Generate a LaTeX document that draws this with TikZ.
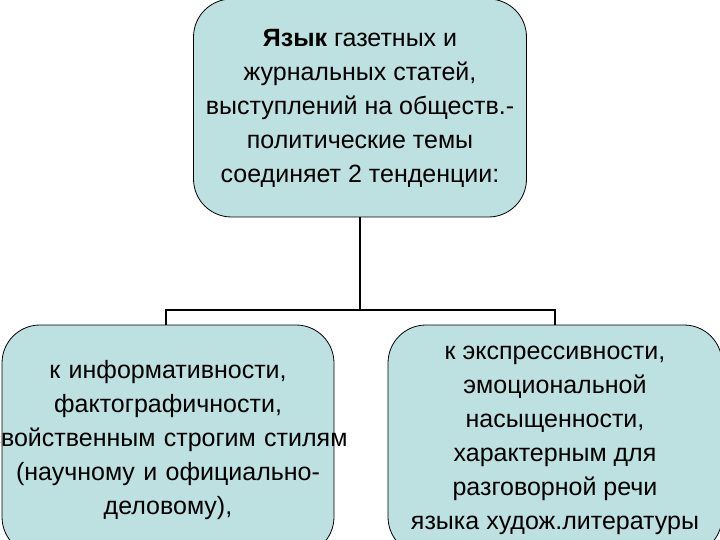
\documentclass[tikz,border=0pt]{standalone}
\usepackage{fontspec}
\setmainfont{Liberation Sans}
\definecolor{boxfill}{HTML}{BDE0E0}
\begin{document}
\begin{tikzpicture}[x=1pt,y=-1pt,
  box/.style={draw=black,line width=0.8pt,fill=boxfill,rounded corners=38pt,align=center,
    font=\fontsize{25}{34}\selectfont,inner sep=0pt},
  conn/.style={line width=2.2pt}]
\useasboundingbox (0,0) rectangle (720,540);
\node[box,minimum width=333pt,minimum height=218pt] (top) at (360,108)
 {\textbf{Язык} газетных и\\журнальных статей,\\выступлений на обществ.-\\политические темы\\соединяет 2 тенденции:};
\node[box,text width=332pt,minimum height=230pt] (left) at (168,440)
 {к информативности,\\фактографичности,\\\makebox[332pt]{свойственным строгим стилям}\\(научному и официально-\\деловому),};
\node[box,minimum width=334pt,minimum height=230pt] (right) at (555,440)
 {к экспрессивности,\\эмоциональной\\насыщенности,\\характерным для\\разговорной речи\\языка худож.литературы};
\coordinate (j) at (360,310);
\coordinate (jl) at (166,310);
\coordinate (jr) at (555,310);
\draw[conn] (top.south) -- (j);
\draw[conn] (left.north -| jl) -- (jl) -- (jr) -- (right.north -| jr);
\end{tikzpicture}
\end{document}
